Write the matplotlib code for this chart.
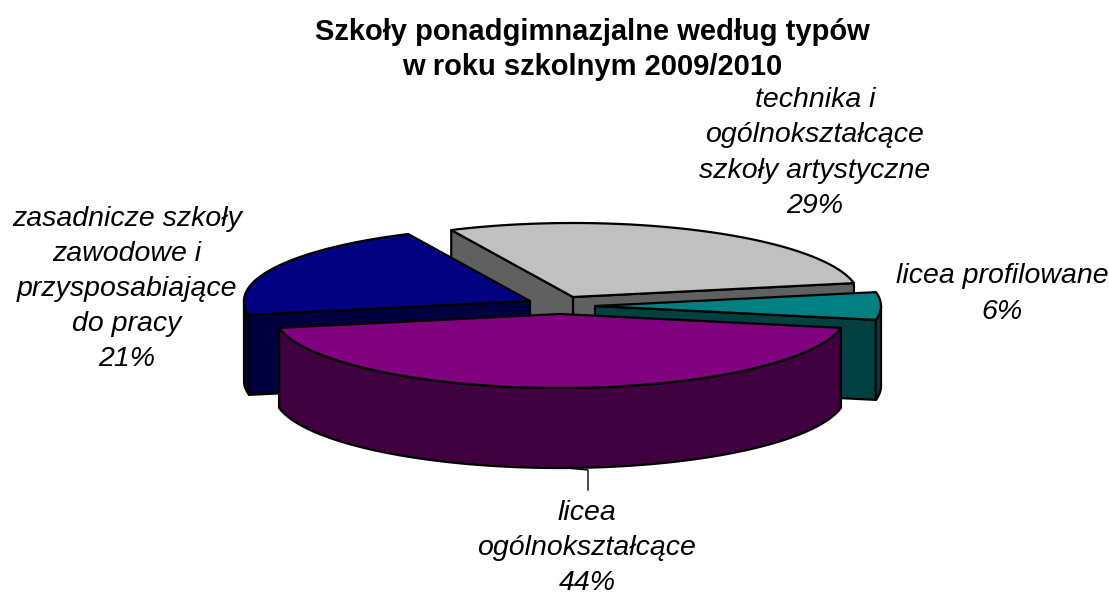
import numpy as np
import matplotlib
matplotlib.use("Agg")
import matplotlib.pyplot as plt
from matplotlib.patches import Polygon

plt.rcParams['font.family'] = ['Liberation Sans', 'DejaVu Sans']

# data
title_lines = ["Szkoły ponadgimnazjalne według typów", "w roku szkolnym 2009/2010"]
names = ["technika i\nogólnokształcące\nszkoły artystyczne", "zasadnicze szkoły\nzawodowe i\nprzysposabiające\ndo pracy",
         "licea\nogólnokształcące", "licea profilowane"]
shares = [29, 21, 44, 6]

# style / layout (same order as the data)
top_colors = ["#C0C0C0", "#000080", "#800080", "#008080"]
side_colors = ["#606060", "#000040", "#400040", "#004040"]
apex = [(573, 297), (530, 301), (560, 314), (595, 306)]
label_pos = [(815, 153), (127, 289), (587, 548), (1002, 294)]
draw_order = [0, 3, 1, 2]
START = 10.8
A, B, DEPTH = 286, 74, 80
LW = 1.6

fig = plt.figure(figsize=(11.09, 5.94), dpi=100)
ax = fig.add_axes([0, 0, 1, 1])
ax.set_xlim(0, 1109)
ax.set_ylim(594, 0)
ax.axis('off')


def rim(cx, cy, t1, t2, dy=0):
    t = np.radians(np.linspace(t1, t2, max(int(abs(t2 - t1)) * 2, 2)))
    return np.column_stack([cx + A * np.cos(t), cy - B * np.sin(t) + dy])


def poly(pts, color, z):
    ax.add_patch(Polygon(pts, closed=True, facecolor=color, edgecolor='black',
                         linewidth=LW, joinstyle='round', zorder=z))


edges = START + np.concatenate([[0], np.cumsum(shares)]) * 3.6
for z, i in enumerate(draw_order):
    t1, t2 = edges[i], edges[i + 1]
    cx, cy = apex[i]
    base = 10 * z
    # visible cut faces
    for t, visible in ((t1, np.cos(np.radians(t1)) > 0), (t2, np.cos(np.radians(t2)) < 0)):
        if visible:
            p = rim(cx, cy, t, t + 0.01)[0]
            poly([(cx, cy), p, (p[0], p[1] + DEPTH), (cx, cy + DEPTH)], side_colors[i], base + 1)
    # visible outer wall (front half of the ellipse)
    for off in (0, 360):
        lo, hi = max(t1, 180 + off), min(t2, 360 + off)
        if hi > lo:
            top = rim(cx, cy, lo, hi)
            bot = rim(cx, cy, lo, hi, DEPTH)[::-1]
            poly(np.vstack([top, bot]), side_colors[i], base + 2)
    # top face
    poly(np.vstack([[(cx, cy)], rim(cx, cy, t1, t2)]), top_colors[i], base + 3)

# leader line of the largest slice
ax.plot([566, 588, 588], [468, 470, 490], color='black', lw=1.0, zorder=100)

for i, (x, y) in enumerate(label_pos):
    ax.text(x, y, f"{names[i]}\n{shares[i]}%", ha='center', va='center', style='italic',
            fontsize=20.5, linespacing=1.46, color='black', zorder=101)

ax.text(592, 32, title_lines[0], ha='center', va='center', fontsize=21, fontweight='bold', zorder=101)
ax.text(592, 67, title_lines[1], ha='center', va='center', fontsize=21, fontweight='bold', zorder=101)

fig.savefig("out.png", dpi=100, facecolor='white')
